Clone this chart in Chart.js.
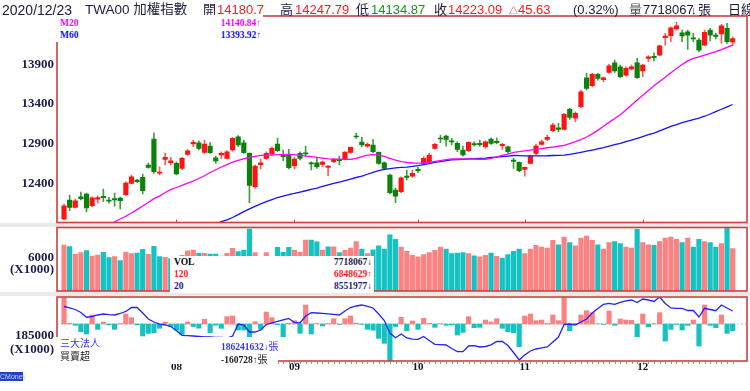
<!doctype html>
<html>
<head>
<meta charset="utf-8">
<title>TWA00 加權指數 日線</title>
<script src="https://cdn.jsdelivr.net/npm/chart.js@4/dist/chart.umd.min.js"></script>
<style>
  body { margin: 0; background: #fff; }
  #wrap { position: relative; width: 750px; height: 391px; overflow: hidden;
          font-family: "Liberation Sans", "Noto Sans CJK TC", sans-serif; }
  canvas { position: absolute; left: 0; }
  .gap { position: absolute; left: 0; width: 750px; background: #e9e9e9; }
  .t { position: absolute; top: 2px; font-size: 13px; line-height: 16px; white-space: nowrap; color: #1a1a3c; }
  .red { color: #ff1a1a; }
  .grn { color: #159515; }
  .box { position: absolute; background: #fff; font: bold 9.5px "Liberation Serif", serif; }
  .box div { position: absolute; line-height: 11px; white-space: nowrap; }
  .cjk { font: 10px "Noto Sans CJK TC", sans-serif; }
  #cm { position: absolute; left: 0; top: 372px; width: 23px; height: 9px; background: #2442c4;
        color: #c8d4ff; font: 7px "Liberation Sans", sans-serif; line-height: 9px; text-align: center; }
</style>
</head>
<body>
<div id="wrap">
  <div class="gap" style="top:223px;height:4px"></div>
  <div class="gap" style="top:292px;height:4px"></div>

  <canvas id="cMain" width="750" height="226" style="top:0"></canvas>
  <canvas id="cVol" width="750" height="70" style="top:224px"></canvas>
  <canvas id="cInst" width="750" height="97" style="top:294px"></canvas>

  <div class="t" style="left:2px;font-size:14px">2020/12/23</div>
  <div class="t" style="left:85px;font-size:13.5px">TWA00 加權指數</div>
  <div class="t" style="left:203px">開</div>
  <div class="t red" style="left:217px">14180.7</div>
  <div class="t" style="left:280px">高</div>
  <div class="t red" style="left:295px">14247.79</div>
  <div class="t" style="left:356px">低</div>
  <div class="t grn" style="left:371px">14134.87</div>
  <div class="t" style="left:434px">收</div>
  <div class="t red" style="left:448px">14223.09</div>
  <div class="t red" style="left:509px"><span style="font-size:9px">△</span>45.63</div>
  <div class="t" style="left:573px">(0.32%)</div>
  <div class="t" style="left:629px;color:#555">量</div>
  <div class="t" style="left:643px">7718067</div>
  <div class="t" style="left:691px;font-size:11px">↓</div>
  <div class="t" style="left:698px">張</div>
  <div class="t" style="left:728px">日線</div>

  <div class="box" style="left:55px;top:15px;width:208px;height:27px">
    <div style="left:5px;top:3px;color:#ff00ff">M20</div>
    <div style="right:2px;top:3px;color:#ff00ff">14140.84↑</div>
    <div style="left:5px;top:15px;color:#1010ff">M60</div>
    <div style="right:2px;top:15px;color:#1010ff">13393.92↑</div>
  </div>

  <div class="box" style="left:170px;top:256px;width:204px;height:37px">
    <div style="left:4px;top:1px;color:#000">VOL</div>
    <div style="right:2px;top:1px;color:#1a1a4a">7718067↓</div>
    <div style="left:4px;top:13px;color:#ff1a1a">120</div>
    <div style="right:2px;top:13px;color:#ff1a1a">6848629↑</div>
    <div style="left:4px;top:25px;color:#1a1a80">20</div>
    <div style="right:2px;top:25px;color:#1a1a80">8551977↓</div>
  </div>

  <div class="box" style="left:55px;top:337px;width:223px;height:27px">
    <div class="cjk" style="left:5px;top:0px;color:#3434ff">三大法人</div>
    <div style="left:166px;top:1px;color:#3434ff">186241632↓<span class="cjk">張</span></div>
    <div class="cjk" style="left:5px;top:13px;color:#222">買賣超</div>
    <div style="left:166px;top:14px;color:#222">-160728↑<span class="cjk">張</span></div>
  </div>

  <div id="cm">CMoney</div>
</div>

<script>
// daily OHLC, 2020/07/06 .. 2020/12/23 (120 trading days)
const open = [11950,12190,12098,12232,12266,12118,12200,12237,12190,12207,12215,12257,12401,12442,12476,12631,12959,12530,12703,12660,
  12652,12590,12766,12896,12912,12791,12870,12723,12757,12716,12820,12988,12912,12778,12358,12635,12716,12770,12896,12766,12766,
  12622,12778,12786,12660,12660,12640,12602,12673,12703,12703,12791,12997,12921,12870,12883,12791,12660,12505,12316,12295,12492,12492,
  12577,12652,12673,12842,12971,12997,12937,12905,12820,12811,12900,12905,12862,12955,12930,12874,12862,12694,12665,
  12577,12652,12778,12892,12955,13063,13101,13081,13333,13223,13366,13731,13630,13774,13706,13799,13920,13870,13765,13841,13920,
  13816,13976,14001,14017,14235,14261,14345,14298,14311,14235,14206,14143,14332,14269,14282,14353,14180.7];
const high = [12140,12253,12203,12291,12278,12232,12240,12329,12224,12278,12228,12421,12505,12450,12518,12656,13038,12610,12782,12728,
  12673,12728,12829,12946,12937,12946,12915,12744,12799,12814,12977,13001,12946,12786,12631,12707,12799,12862,12971,12820,12829,
  12728,12799,12870,12673,12716,12685,12625,12716,12744,12800,12862,13031,12980,12912,12955,12799,12673,12518,12341,12484,12568,12568,
  12602,12736,12778,12905,13009,13009,12967,12925,12870,12925,12925,12946,12937,12975,12975,12905,12870,12716,12673,
  12610,12757,12896,12946,13009,13156,13156,13282,13346,13303,13576,13787,13787,13787,13744,13900,13954,13891,13870,13891,13976,
  13900,14009,14046,14143,14291,14374,14429,14332,14332,14291,14228,14332,14353,14291,14404,14416,14247.79];
const low = [11945,12056,12086,12190,12039,12106,12152,12169,12149,12114,12077,12249,12392,12413,12266,12593,12527,12505,12631,12631,
  12505,12577,12753,12862,12820,12778,12778,12652,12716,12707,12807,12862,12778,12156,12337,12581,12703,12757,12799,12685,12581,
  12581,12694,12744,12568,12590,12610,12496,12660,12631,12694,12778,12967,12862,12854,12786,12640,12568,12266,12156,12282,12442,12476,
  12534,12644,12660,12829,12912,12870,12883,12799,12744,12799,12870,12870,12842,12892,12896,12829,12778,12590,12547,
  12492,12644,12757,12883,12937,13051,13051,13072,13207,13177,13353,13576,13618,13702,13681,13787,13799,13731,13752,13828,13724,
  13744,13933,13942,14009,14143,14185,14332,14185,14089,14185,14059,14134,14194,14219,14165,14165,14134.87];
const close = [12116,12098,12181,12207,12090,12219,12222,12219,12177,12190,12181,12404,12484,12421,12308,12602,12547,12540,12728,12685,
  12518,12716,12811,12917,12842,12896,12786,12682,12778,12799,12967,12883,12786,12375,12618,12660,12778,12842,12811,12736,12597,
  12707,12716,12770,12644,12610,12669,12618,12703,12685,12795,12854,12984,12883,12892,12799,12653,12590,12282,12240,12471,12476,12526,
  12559,12716,12757,12892,12959,12955,12921,12829,12757,12917,12883,12887,12925,12905,12912,12892,12799,12678,12559,
  12602,12744,12870,12925,12980,13135,13081,13270,13232,13283,13555,13598,13774,13724,13730,13882,13816,13744,13849,13870,13731,
  13891,13996,13983,14134,14257,14361,14386,14257,14269,14219,14080,14303,14269,14253,14386,14185,14223.09];

const ma20 = [null,null,null,null,null,null,null,null,11875,11917,11951,11986,12026,12069,12114,12159,12207,12240,12285,12321,
  12348,12375,12402,12429,12461,12496,12537,12572,12606,12637,12669,12690,12709,12726,12741,12752,12757,12757,12761,12763,12766,
  12761,12753,12744,12738,12728,12719,12709,12705,12704,12703,12703,12716,12738,12757,12761,12757,12741,12716,12694,12675,12665,12657,
  12654,12656,12665,12676,12688,12700,12707,12707,12707,12707,12705,12704,12703,12716,12734,12752,12770,12790,12800,
  12810,12818,12828,12839,12849,12858,12868,12878,12902,12925,12952,12984,13024,13068,13119,13169,13217,13265,13324,13387,13450,
  13509,13571,13629,13683,13737,13795,13847,13897,13944,13974,13994,14015,14037,14061,14086,14114,14140.84];
const ma60 = [null,null,null,null,null,null,null,null,null,null,null,null,null,null,null,null,null,null,null,null,
  null,null,null,null,null,null,null,11888,11917,11941,11970,12006,12044,12078,12111,12142,12171,12196,12222,12240,12257,
  12273,12291,12307,12324,12341,12361,12382,12399,12417,12436,12455,12474,12492,12515,12539,12562,12577,12586,12595,12601,12606,12613,
  12624,12637,12650,12664,12675,12687,12695,12700,12704,12708,12710,12714,12719,12726,12732,12738,12744,12751,12750,
  12747,12746,12746,12747,12748,12751,12753,12757,12766,12778,12791,12805,12820,12835,12850,12870,12888,12904,12926,12946,12967,
  12990,13013,13034,13062,13090,13117,13141,13164,13185,13204,13223,13246,13274,13304,13334,13364,13393.92];

// volume, 1000 lots
const volume = [8360,8060,6730,6970,7330,6360,6550,7030,6060,6240,5520,7090,6790,6910,7580,6670,8120,6240,6120,5900,
  6000,6500,7300,7450,6850,6850,6730,6730,6360,6850,7760,7150,7450,11270,6970,5800,6970,6000,7950,7030,7950,
  7450,7030,9270,9270,8960,7450,8050,8050,7000,7400,7800,9000,7600,6800,7500,8200,7600,10200,9400,8000,7200,6500,
  6200,6600,7000,7400,8000,7600,6800,6900,7000,6800,6400,6200,6500,6900,6300,6000,6600,7200,7600,
  6800,7600,8300,8000,7800,9200,8400,9800,8800,8200,9600,10000,9200,8400,7600,8800,9000,8600,8000,7800,11200,
  8800,8400,8300,9000,9600,9800,9400,8800,9600,8000,9400,9000,8800,8000,8600,11400,7718.067];

// 三大法人 net buy/sell (lots) and holdings (1000 lots)
const instNet = [641000,20000,-30000,-185000,-240000,216000,-128000,48000,-20000,-128000,10000,240000,152000,-20000,-288000,-224000,-208000,-104000,48000,-60000,
  -150000,-250000,48000,-60000,-100000,112000,-208000,-30000,-104000,176000,192000,-144000,-144000,-320000,56000,-128000,288000,152000,-20000,-304000,20000,
  80000,-224000,456000,-240000,10000,-48000,10000,128000,-10000,128000,192000,20000,-10000,-128000,-150000,-344000,-464000,-900000,-60000,160000,-160000,72000,
  -128000,136000,16000,-80000,10000,-32000,-24000,-264000,-200000,176000,-88000,-80000,96000,48000,128000,-104000,-184000,-208000,-544000,
  192000,240000,80000,96000,16000,216000,80000,656000,-160000,16000,216000,320000,272000,8000,-8000,312000,-32000,120000,96000,88000,-304000,
  240000,-64000,10000,272000,-408000,-128000,-10000,-144000,-32000,96000,-528000,456000,-32000,-88000,216000,-224000,-160728];
const instHold = [186466,186402,186317,186168,185934,185969,186044,186093,186064,186044,186118,186218,186416,186416,186143,185845,185696,185586,185547,185472,
  185273,185035,185015,185000,184975,184950,184950,184925,184925,184900,185000,185596,185547,185199,185199,185298,185572,185646,185721,185795,185870,
  185671,185646,185994,186158,186143,186128,186103,186078,186044,186243,186416,186491,186541,186466,186392,186093,185770,185149,184916,185099,184901,184841,
  184836,184975,184776,184583,184573,184553,184379,184220,184220,184503,184518,184453,184478,184563,184727,184727,184528,184180,183807,
  184056,184255,184354,184404,184453,184702,184950,185572,185596,185547,185696,185845,186143,186367,186566,186616,186576,186675,186740,186789,186665,
  186839,186789,186715,186938,186616,186392,186377,186377,186267,186267,185944,186377,186317,186257,186541,186392,186241.632];

const monthIdx = [20, 41, 63, 82, 103];
const monthLabels = ['08', '09', '10', '11', '12'];
const priceTicks = [12400, 12900, 13400, 13900];

const RED = '#ff1414', GREEN = '#0b820b', WICK_R = '#ff5a5a', WICK_G = '#3f9f3f';
const PINK = '#fa8282', CYAN = '#14c2c2', BORDER = '#cf3f3f', NAVY = '#1c1c4c';

const up = i => close[i] >= open[i];
const volUp = i => i === 0 ? up(0) : close[i] >= close[i - 1];
const xy = (arr) => arr.map((v, i) => ({ x: i, y: v }));

// borders, y labels and small marks, all placed through the chart's scales
const decor = {
  id: 'decor',
  beforeDatasetsDraw(chart, args, o) {
    if (!o.zero) return;
    const { ctx, chartArea: a, scales } = chart;
    const y = scales.y.getPixelForValue(0);
    ctx.save();
    ctx.strokeStyle = '#f09090';
    ctx.lineWidth = 1;
    ctx.setLineDash([1.5, 2.5]);
    ctx.beginPath();
    ctx.moveTo(a.left, y);
    ctx.lineTo(a.right, y);
    ctx.stroke();
    ctx.restore();
  },
  afterDatasetsDraw(chart, args, o) {
    const { ctx, chartArea: a, scales } = chart;
    ctx.save();
    ctx.strokeStyle = BORDER;
    ctx.lineWidth = 1.6;
    ctx.strokeRect(a.left, a.top, a.right - a.left, a.bottom - a.top);

    ctx.font = 'bold 13px "Liberation Serif", serif';
    ctx.fillStyle = NAVY;
    ctx.textAlign = 'right';
    ctx.textBaseline = 'middle';
    (o.labels || []).forEach(t => {
      const y = scales[t.axis].getPixelForValue(t.v);
      t.lines.forEach((s, k) => ctx.fillText(s, a.left - 3, y + k * t.gap));
    });

    ctx.lineWidth = 1;
    if (o.monthMarks) {
      monthIdx.forEach(m => {
        const x = Math.round(scales.x.getPixelForValue(m)) + 0.5;
        ctx.beginPath();
        ctx.moveTo(x, a.bottom);
        ctx.lineTo(x, a.bottom - 3);
        ctx.stroke();
      });
    }
    if (o.barMarks) {
      ctx.strokeStyle = '#e27a7a';
      for (let i = 0; i < close.length; i++) {
        const x = Math.round(scales.x.getPixelForValue(i)) + 0.5;
        ctx.beginPath();
        ctx.moveTo(x, a.bottom + 1);
        ctx.lineTo(x, a.bottom + 3);
        ctx.stroke();
      }
    }
    if (o.monthText) {
      ctx.font = 'bold 11px "Liberation Serif", serif';
      ctx.fillStyle = '#101030';
      ctx.textAlign = 'center';
      monthIdx.forEach((m, k) => {
        ctx.fillText(monthLabels[k], scales.x.getPixelForValue(m), a.bottom + 6.5);
      });
    }
    ctx.restore();
  }
};
Chart.register(decor);

const xScale = { type: 'linear', display: false, min: -1.25, max: 121.55, offset: false };
const base = {
  responsive: false,
  animation: false,
  events: [],
  plugins: { legend: { display: false }, tooltip: { enabled: false } }
};

// price panel
new Chart(document.getElementById('cMain'), {
  type: 'bar',
  data: {
    datasets: [
      { type: 'line', data: xy(ma20), borderColor: '#ff00ff', borderWidth: 1.3, pointRadius: 0, order: 0 },
      { type: 'line', data: xy(ma60), borderColor: '#1212ff', borderWidth: 1.3, pointRadius: 0, order: 0 },
      { data: open.map((o, i) => ({ x: i, y: [o, close[i]] })), grouped: false, barThickness: 4.5, minBarLength: 1,
        backgroundColor: c => up(c.dataIndex) ? RED : GREEN, order: 1 },
      { data: low.map((l, i) => ({ x: i, y: [l, high[i]] })), grouped: false, barThickness: 1,
        backgroundColor: c => up(c.dataIndex) ? WICK_R : WICK_G, order: 2 }
    ]
  },
  options: {
    ...base,
    layout: { padding: { left: 57, right: 3, top: 16, bottom: 3.5 } },
    scales: { x: xScale, y: { display: false, min: 11907, max: 14509 } },
    plugins: { ...base.plugins,
      decor: { monthMarks: true, labels: priceTicks.map(v => ({ axis: 'y', v, lines: [String(v)], gap: 0 })) } }
  }
});

// volume panel
new Chart(document.getElementById('cVol'), {
  type: 'bar',
  data: {
    datasets: [
      { data: xy(volume), grouped: false, barThickness: 4.5, backgroundColor: c => volUp(c.dataIndex) ? PINK : CYAN }
    ]
  },
  options: {
    ...base,
    layout: { padding: { left: 57, right: 3, top: 3.5, bottom: 3 } },
    scales: { x: xScale, y: { display: false, min: 0, max: 11545 } },
    plugins: { ...base.plugins,
      decor: { labels: [{ axis: 'y', v: 6000, lines: ['6000', '(X1000)'], gap: 12 }] } }
  }
});

// 三大法人 panel
new Chart(document.getElementById('cInst'), {
  type: 'bar',
  data: {
    datasets: [
      { type: 'line', data: xy(instHold), yAxisID: 'y2', borderColor: '#2222ff', borderWidth: 1.3, pointRadius: 0, order: 0 },
      { data: xy(instNet), yAxisID: 'y', grouped: false, barThickness: 4.5,
        backgroundColor: c => instNet[c.dataIndex] >= 0 ? PINK : CYAN, order: 1 }
    ]
  },
  options: {
    ...base,
    layout: { padding: { left: 57, right: 3, top: 3, bottom: 30 } },
    scales: {
      x: xScale,
      y: { display: false, min: -888000, max: 648000 },
      y2: { display: false, min: 183757, max: 186938 }
    },
    plugins: { ...base.plugins,
      decor: { zero: true, barMarks: true, monthText: true,
               labels: [{ axis: 'y2', v: 185000, lines: ['185000', '(X1000)'], gap: 13.5 }] } }
  }
});
</script>
</body>
</html>
